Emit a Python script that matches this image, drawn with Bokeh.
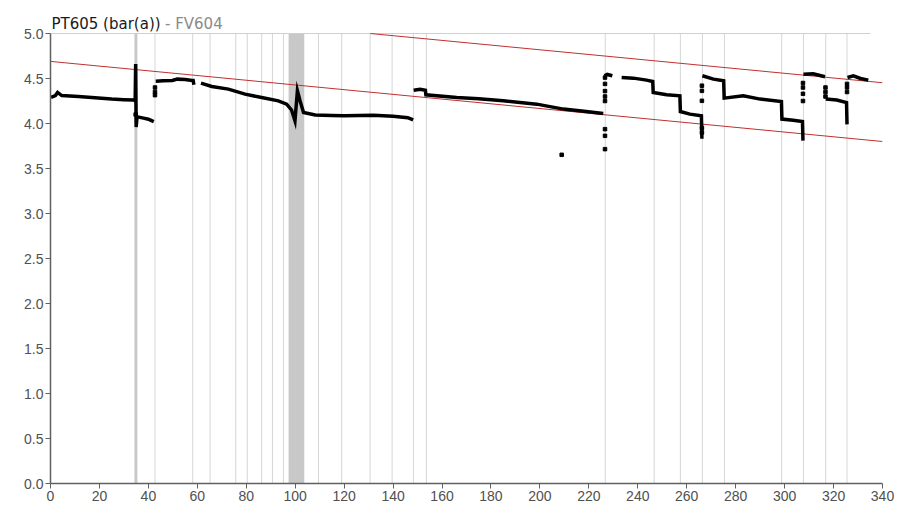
from bokeh.plotting import figure
from bokeh.models import Range1d, FixedTicker, NumeralTickFormatter
from bokeh.core.properties import value
from bokeh.embed import file_html
from bokeh.resources import INLINE

# ---------------- data ----------------
title_main = "PT605 (bar(a))"
title_sub = "- FV604"

x_ticks = list(range(0, 341, 20))
y_ticks = [0.0, 0.5, 1.0, 1.5, 2.0, 2.5, 3.0, 3.5, 4.0, 4.5, 5.0]

# vertical event markers (x positions)
event_x = [42.7, 58.1, 65.2, 75.7, 80.4, 86.3, 90.7, 95.2, 109.5, 119.0,
           130.6, 139.6, 148.3, 153.6, 226.7, 246.7, 257.4, 266.4, 275.4,
           298.8, 307.7, 316.8, 325.5]
band_left = [34.3, 97.3]
band_right = [35.5, 103.7]

# measured trace, segments (x, y)
seg_x = [
    [0.2, 2.0, 2.9, 4.6, 11.4, 18.2, 25.0, 30.0, 34.0, 34.6, 34.8, 35.0, 35.4],
    [35.6, 38.0, 40.0, 42.2],
    [43.0, 46.0, 49.8, 51.8, 55.0, 57.9, 58.3, 58.6],
    [61.5, 65.9, 72.7, 79.5, 86.3, 93.1, 96.5, 98.5, 99.9, 100.9, 102.0, 103.4,
     108.2, 115.0, 120.0, 131.9, 140.0, 146.0, 148.2],
    [148.4, 151.0, 153.2, 153.4, 166.0, 175.0, 185.0, 198.7, 209.6, 218.0, 225.9],
    [226.4, 227.5, 229.6],
    [233.4, 238.2, 243.6, 246.1, 246.3, 251.8, 257.2, 257.4, 261.3, 266.0, 266.2],
    [266.4, 270.9, 275.1, 275.3, 283.1, 290.0, 298.7, 298.9, 303.5, 307.3, 307.5],
    [307.7, 311.7, 316.5],
    [316.8, 321.3, 325.3, 325.5],
    [325.7, 328.1, 331.0, 334.2],
]
seg_y = [
    [4.29, 4.31, 4.345, 4.31, 4.30, 4.286, 4.271, 4.265, 4.26, 4.25, 4.66, 3.96, 4.08],
    [4.074, 4.06, 4.048, 4.02],
    [4.47, 4.475, 4.478, 4.493, 4.49, 4.478, 4.478, 4.43],
    [4.448, 4.411, 4.382, 4.326, 4.289, 4.252, 4.215, 4.15, 4.03, 4.363, 4.25, 4.122,
     4.095, 4.09, 4.085, 4.093, 4.08, 4.065, 4.04],
    [4.37, 4.38, 4.37, 4.319, 4.289, 4.275, 4.252, 4.215, 4.16, 4.135, 4.111],
    [4.53, 4.545, 4.53],
    [4.511, 4.504, 4.482, 4.467, 4.345, 4.319, 4.308, 4.133, 4.104, 4.085, 3.83],
    [4.53, 4.493, 4.474, 4.282, 4.308, 4.271, 4.245, 4.049, 4.037, 4.022, 3.81],
    [4.548, 4.552, 4.519],
    [4.271, 4.26, 4.233, 3.99],
    [4.511, 4.53, 4.50, 4.482],
]

# isolated points (jumps drawn as dotted strings, outlier)
dot_x = [34.8, 42.7, 42.7, 42.7, 208.9,
         226.6, 226.6, 226.6, 226.6, 226.6, 226.6, 226.6, 226.6,
         266.2, 266.2, 266.2, 266.2, 266.2,
         307.5, 307.5, 307.5, 307.5,
         316.7, 316.7, 316.7,
         325.5, 325.5, 325.5]
dot_y = [4.10, 4.40, 4.315, 4.35, 3.652,
         3.715, 3.863, 3.937, 4.25, 4.30, 4.36, 4.44, 4.51,
         4.252, 4.363, 4.42, 3.90, 3.95,
         4.45, 4.40, 4.33, 4.25,
         4.40, 4.35, 4.30,
         4.44, 4.40, 4.35]

# red limit lines
lower_x = [0.0, 340.0]
lower_y = [4.69, 3.80]
upper_x = [130.7, 340.0]
upper_y = [5.0, 4.453]

x_min, x_max = 0, 340
y_min, y_max = 0.0, 5.0
top_line_end = 335.0

# ---------------- figure ----------------
# the frame reaches up into the title strip so the two-colour title can be drawn as text glyphs
px_per_unit = 90.0
title_strip = 28
p = figure(frame_width=832, frame_height=450 + title_strip,
           x_range=Range1d(x_min, x_max),
           y_range=Range1d(y_min, y_max + title_strip / px_per_unit),
           output_backend="svg", toolbar_location=None,
           min_border_left=50, min_border_right=14, min_border_top=5, min_border_bottom=20)
p.outline_line_color = None
p.xgrid.visible = False
p.ygrid.visible = False
p.background_fill_color = "white"
p.border_fill_color = "white"

# event bands and lines
p.quad(left=band_left, right=band_right, bottom=[y_min] * len(band_left),
       top=[y_max] * len(band_left), fill_color="#c8c8c8", line_color=None)
p.segment(x0=event_x, y0=[y_min] * len(event_x), x1=event_x, y1=[y_max] * len(event_x),
          line_color="#d6d6d6", line_width=1)
p.segment(x0=[x_min], y0=[y_max], x1=[top_line_end], y1=[y_max],
          line_color="#d0d0d0", line_width=1)

# red limit lines
p.line(lower_x, lower_y, line_color="#c03030", line_width=1)
p.line(upper_x, upper_y, line_color="#c03030", line_width=1)

# trace
p.multi_line(xs=seg_x, ys=seg_y, line_color="black", line_width=3.5, line_join="miter")
p.scatter(dot_x, dot_y, marker="square", size=3.5, fill_color="black", line_color="black")

# title
p.text(x=[x_min], y=[y_max], text=[title_main], x_offset=1, y_offset=-9.5,
       text_font=value("DejaVu Sans"), text_font_size="15px", text_color="#1a1a1a",
       text_baseline="alphabetic", text_align="left")
p.text(x=[x_min], y=[y_max], text=[title_sub], x_offset=114.5, y_offset=-9.5,
       text_font=value("DejaVu Sans"), text_font_size="15px", text_color="#8a8a8a",
       text_baseline="alphabetic", text_align="left")

# axes
for ax in (p.xaxis[0], p.yaxis[0]):
    ax.axis_line_color = "#606060"
    ax.axis_line_width = 1.5
    ax.major_tick_line_color = "#606060"
    ax.major_tick_out = 5
    ax.major_tick_in = 0
    ax.minor_tick_line_color = None
    ax.major_label_text_font = "Liberation Sans"
    ax.major_label_text_font_size = "14px"
    ax.major_label_text_color = "#505050"
    ax.major_label_standoff = 2
p.yaxis.bounds = (y_min, y_max)
p.xaxis.ticker = FixedTicker(ticks=x_ticks)
p.yaxis.ticker = FixedTicker(ticks=y_ticks)
p.yaxis.formatter = NumeralTickFormatter(format="0.0")

open("out.html", "w").write(file_html(p, INLINE))
